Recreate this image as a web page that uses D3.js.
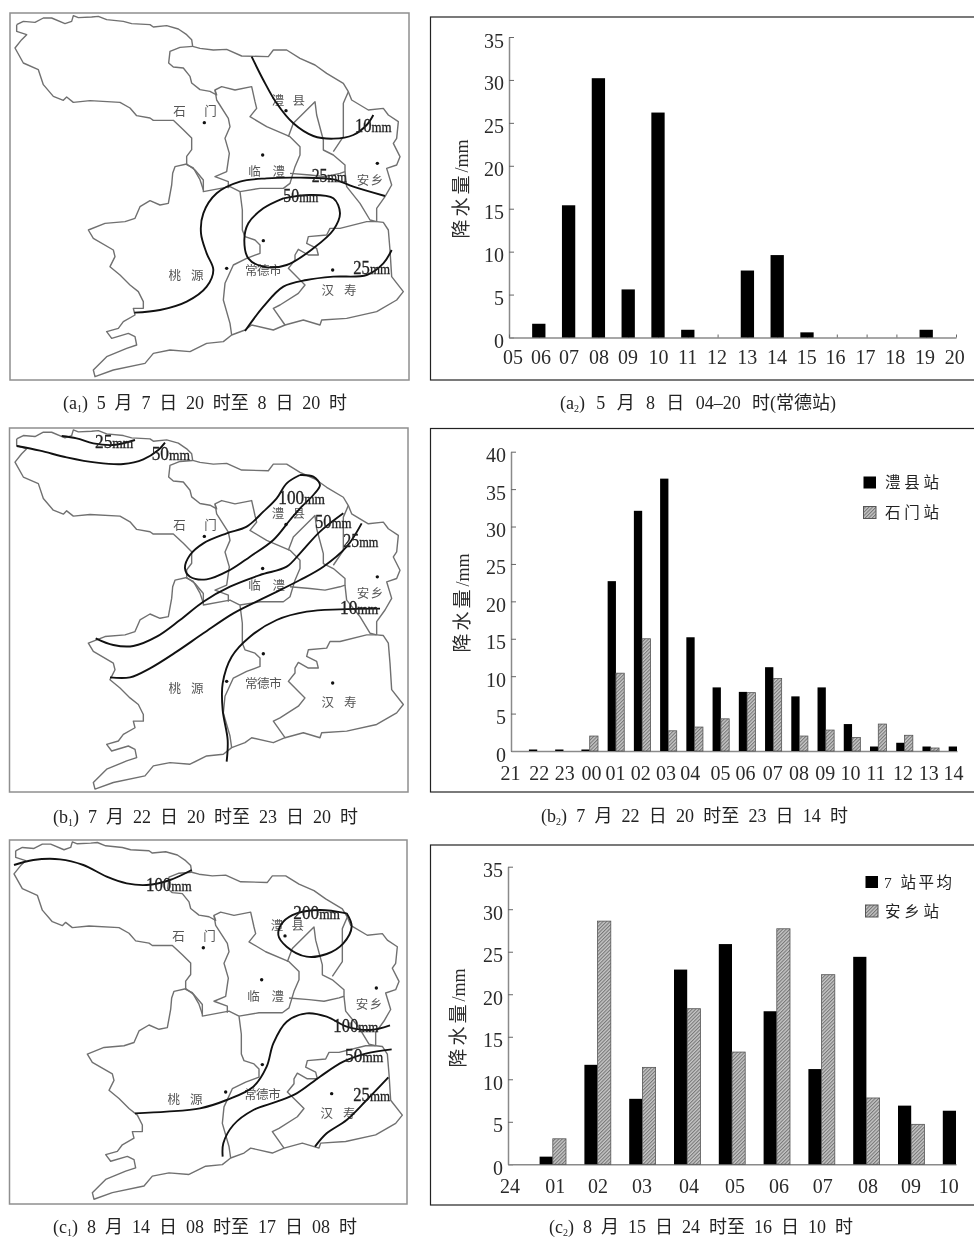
<!DOCTYPE html>
<html>
<head>
<meta charset="utf-8">
<script src="https://cdn.jsdelivr.net/npm/d3@7"></script>
<style>
  html, body { margin: 0; padding: 0; background: #fff; overflow: hidden; }
  svg { display: block; will-change: transform; }
  text { font-family: "Liberation Serif", "Noto Sans CJK SC", serif; }
</style>
</head>
<body>
<div class="chart"></div>
<script>
// ---------- bar chart data (mm per hour) ----------
var hoursA = ["05","06","07","08","09","10","11","12","13","14","15","16","17","18","19","20"];
var changde = [0,1.6,15.4,30.2,5.6,26.2,0.9,0,7.8,9.6,0.6,0,0,0,0.9,0];

var hoursB = ["21","22","23","00","01","02","03","04","05","06","07","08","09","10","11","12","13","14"];
var lixian = [0,0.2,0.2,0.2,22.7,32.1,36.4,15.2,8.5,7.9,11.2,7.3,8.5,3.6,0.6,1.1,0.6,0.6];
var shimen = [0,0,0,2.0,10.4,15,2.7,3.2,4.3,7.8,9.7,2.0,2.8,1.8,3.6,2.1,0.4,0];

var hoursC = ["24","01","02","03","04","05","06","07","08","09","10"];
var avg7 = [0,0.9,11.7,7.7,22.9,25.9,18,11.2,24.4,6.9,6.3];
var anxiang = [0,3.0,28.6,11.4,18.3,13.2,27.7,22.3,7.8,4.7,0];

// ---------- base map, traced in map units (same for the three maps) ----------
var countyLines = [
  // north edge, from the top lobe round to the east side
  [[50,74],[70,64],[105,67],[130,54],[155,54],[195,71],[215,64],[220,47],[235,53],[275,51],[295,49],[320,59],[370,64],[395,71],[450,74],[460,81],[500,77],[535,87],[560,104],[575,119],[578,139],[600,145],[640,150],[680,148],[725,168],[805,170],[820,150],[860,150],[900,175],[945,195],[980,220],[1030,250],[1045,275],[1055,300],[1105,330],[1150,325],[1165,345],[1195,365],[1190,415],[1180,430],[1200,470],[1190,495],[1160,505],[1175,555],[1155,590],[1130,625],[1130,665]],
  // south edge of the top lobe
  [[50,74],[50,94],[80,104],[65,119],[45,144],[70,189],[115,209],[130,254],[160,289],[190,301],[200,291],[220,307],[270,302],[360,307],[390,324],[410,347],[450,354],[460,361],[520,361],[550,389],[575,414],[575,449],[560,469],[560,494],[580,504],[600,539],[610,569]],
  // Hanshou, north side then south side
  [[1130,665],[1150,667],[1165,690],[1170,750],[1175,830],[1210,875],[1190,900],[1130,935],[1040,955],[965,960],[960,975],[910,960],[855,975],[820,925],[840,915],[895,880],[915,855],[900,840],[865,805],[885,780],[885,765],[895,748],[925,765],[955,765],[950,745],[920,730],[925,710],[980,705],[990,685],[1020,685],[1100,665],[1130,665]],
  // south edge and Taoyuan round to its north tip
  [[855,975],[820,990],[755,975],[735,990],[695,1005],[670,1025],[620,1030],[570,1055],[510,1050],[460,1060],[435,1090],[340,1110],[285,1130],[280,1110],[320,1070],[380,1045],[410,1035],[405,1010],[385,1000],[335,1015],[320,995],[355,985],[370,965],[405,945],[400,925],[430,925],[430,905],[415,875],[390,855],[360,825],[330,800],[345,770],[340,750],[280,715],[265,690],[315,670],[375,665],[405,655],[420,620],[450,602],[480,615],[505,610],[515,555],[518,520],[525,500],[560,492],[585,510],[610,540],[610,575],[690,560],[720,575]],
  // Li county west side and the Linli ring
  [[578,139],[540,142],[510,154],[506,189],[520,201],[550,204],[570,229],[575,249],[600,269],[630,274],[650,285],[645,270],[665,260],[705,270],[755,260],[765,305],[770,325],[750,350],[800,380],[870,410],[900,440],[900,465],[885,500],[870,550],[850,565],[780,565],[720,575]],
  // Shimen / Linli
  [[645,270],[650,300],[685,355],[690,380],[675,415],[688,460],[680,515],[645,530],[685,545],[685,565]],
  // wedge north of Changde and its southern side
  [[865,410],[880,370],[945,305],[950,345],[970,420],[970,450],[1000,465],[1035,495],[1035,515],[1020,520],[975,530],[930,525],[870,520]],
  // Anxiang west side
  [[1045,275],[1030,310],[1030,410],[1000,455]],
  [[1035,515],[1040,560],[1080,610],[1110,660],[1130,665]],
  // Taoyuan / Changde
  [[720,575],[727,630],[727,690],[735,710],[765,720],[780,735],[780,760],[740,775],[700,795],[675,850],[670,900],[690,970],[695,1005]]
];
var placeNames = ["石门","澧县","临澧","安乡","桃源","常德市","汉寿"];
var placeCentres = [[585,335],[865,300],[800,515],[1110,540],[558,827],[790,812],[1017,870]];
var placeWidths = [130,100,110,80,105,110,105];
var stationAt = [[613,368],[858,332],[788,465],[1132,490],[790,722],[680,805],[998,810]];

// ---------- isohyets per map ----------
var isoA = [
  [[755,170],[790,240],[830,310],[880,370],[940,408],[1000,416],[1060,405],[1100,375],[1120,345]],
  [[403,938],[480,930],[560,905],[620,860],[640,810],[620,760],[603,700],[610,640],[650,580],[720,545],[800,535],[900,533],[1000,538],[1060,560],[1155,588]],
  [[850,595],[930,585],[1000,595],[1020,640],[1000,690],[940,745],[860,795],[790,800],[745,775],[733,720],[745,670],[790,625],[850,595]],
  [[735,993],[790,920],[850,860],[920,840],[1000,830],[1100,825],[1150,790],[1175,750]]
];
var isoLabelsA = [["10",1065,1175,380],["25",935,1040,530],["50",850,955,590],["25",1060,1170,805]];

var isoB = [
  [[185,48],[230,55],[280,70],[340,75],[405,60]],
  [[50,78],[120,92],[200,112],[290,128],[370,132],[430,118],[475,90],[495,68]],
  [[900,165],[940,170],[960,195],[940,225],[905,260],[870,300],[820,360],[750,410],[690,450],[620,478],[570,470],[555,445],[570,405],[610,370],[680,340],[740,320],[790,275],[830,235],[860,190],[900,165]],
  [[287,655],[340,675],[400,678],[470,650],[540,600],[610,545],[690,500],[780,465],[860,440],[900,400],[960,335],[1030,280]],
  [[330,772],[390,772],[450,745],[530,695],[610,640],[700,580],[800,530],[900,480],[970,440],[1040,380],[1085,310]],
  [[680,1025],[683,960],[668,870],[668,790],[695,710],[750,650],[830,600],[920,575],[1020,568],[1140,566]]
];
var isoLabelsB = [["25",285,400,68],["50",455,570,102],["100",835,975,235],["50",945,1055,308],["25",1030,1135,365],["10",1020,1135,566]];

var isoC = [
  [[42,105],[100,90],[180,88],[250,105],[320,140],[380,160],[440,165],[510,150],[575,120]],
  [[1040,250],[1055,290],[1030,340],[980,372],[920,380],[860,350],[835,315],[850,275],[890,250],[960,240],[1040,250]],
  [[405,850],[500,845],[600,835],[680,810],[760,770],[800,710],[820,640],[860,575],[920,550],[980,560],[1040,590],[1110,600],[1170,586]],
  [[668,980],[670,940],[700,885],[760,840],[830,815],[890,790],[960,740],[1030,695],[1100,670],[1175,658]],
  [[945,950],[980,910],[1040,870],[1100,810],[1165,742]]
];
var isoLabelsC = [["100",438,575,165],["200",880,1020,250],["100",1000,1135,588],["50",1035,1150,680],["25",1060,1170,795]];

// ---------- page layout ----------
var svg = d3.select(".chart").append("svg")
  .attr("width", 974)
  .attr("height", 1238);

svg.append("rect").attr("width", 974).attr("height", 1238).attr("fill", "#fff");

// hatch fill used by the second series
var hatch = svg.append("defs").append("pattern")
  .attr("id", "hatch")
  .attr("patternUnits", "userSpaceOnUse")
  .attr("width", 2.5)
  .attr("height", 2.5)
  .attr("patternTransform", "rotate(45)");
hatch.append("rect").attr("width", 2.5).attr("height", 2.5).attr("fill", "#c8c8c8");
hatch.append("rect").attr("width", 1.1).attr("height", 2.5).attr("fill", "#777");

// captions: digits stay tight, the gaps between words take up the width
function caption(part, sub, rest, x0, x1, yMid) {
  var t = svg.append("text")
    .attr("x", x0)
    .attr("y", yMid + 6)
    .attr("font-size", 18)
    .attr("fill", "#222");
  t.append("tspan").text("(" + part);
  t.append("tspan").attr("font-size", 10).attr("dy", 3).text(sub);
  t.append("tspan").attr("dy", -3).text(") " + rest);

  var gaps = rest.split(" ").length;
  var spare = (x1 - x0) - t.node().getComputedTextLength();
  t.style("word-spacing", (spare / gaps) + "px");
}

function drawMap(m) {
  var x = d3.scaleLinear().domain([0, 1260]).range([0, 420]);
  var y = d3.scaleLinear().domain([0, 1260]).range([m.top, m.top + 420]);
  // the scanned base map sits a little differently in each frame
  var baseX = function (v) { return x(v + m.shiftX); };
  var baseY = function (v) { return y(v * m.scaleY + m.shiftY); };

  var g = svg.append("g");

  g.append("rect")
    .attr("x", m.frame[0])
    .attr("y", m.frame[1])
    .attr("width", m.frame[2] - m.frame[0])
    .attr("height", m.frame[3] - m.frame[1])
    .attr("fill", "none")
    .attr("stroke", "#8f8f8f")
    .attr("stroke-width", 1.5);

  var baseLine = d3.line().x(d => baseX(d[0])).y(d => baseY(d[1]));
  countyLines.forEach(function (b) {
    g.append("path")
      .attr("d", baseLine(b))
      .attr("fill", "none")
      .attr("stroke", "#707070")
      .attr("stroke-width", 1.4)
      .attr("stroke-linejoin", "round");
  });

  // county names and station dots
  g.selectAll(".place").data(placeNames).enter().append("text")
    .attr("x", (d, i) => baseX(placeCentres[i][0] - placeWidths[i] / 2))
    .attr("y", (d, i) => baseY(placeCentres[i][1]) + 4.5)
    .attr("textLength", (d, i) => x(placeWidths[i]))
    .attr("lengthAdjust", "spacing")
    .attr("font-size", 12.5)
    .attr("fill", "#555")
    .text(d => d);

  g.selectAll(".station").data(stationAt).enter().append("circle")
    .attr("cx", d => baseX(d[0]))
    .attr("cy", d => baseY(d[1]))
    .attr("r", 1.7)
    .attr("fill", "#111");

  var isoLine = d3.line().x(d => x(d[0])).y(d => y(d[1])).curve(d3.curveCatmullRom);
  m.iso.forEach(function (c) {
    g.append("path")
      .attr("d", isoLine(c))
      .attr("fill", "none")
      .attr("stroke", "#111")
      .attr("stroke-width", 1.9);
  });

  m.isoLabels.forEach(function (l) {
    var t = g.append("text")
      .attr("x", x(l[1]))
      .attr("y", y(l[3]) + 5.5)
      .attr("font-size", 18)
      .attr("fill", "#222")
      .attr("stroke", "#222")
      .attr("stroke-width", 0.3)
      .attr("textLength", x(l[2]) - x(l[1]))
      .attr("lengthAdjust", "spacingAndGlyphs");
    t.append("tspan").text(l[0]);
    t.append("tspan").attr("font-size", 14).text("mm");
  });
}

function drawBars(c) {
  // frame runs off the right edge of the picture
  svg.append("rect")
    .attr("x", 430.5)
    .attr("y", c.frameTop)
    .attr("width", 600)
    .attr("height", c.frameBottom - c.frameTop)
    .attr("fill", "none")
    .attr("stroke", "#222")
    .attr("stroke-width", 1.2);

  var x = d3.scalePoint().domain(c.hours).range([c.left, c.right]);
  var y = d3.scaleLinear().domain([0, c.yMax]).range([c.y0, c.yTop]);

  var leftAxis = d3.axisLeft(y).tickValues(d3.range(0, c.yMax + 1, 5)).tickSizeInner(-5).tickSizeOuter(0).tickPadding(5);
  var bottomAxis = d3.axisBottom(x).tickSizeInner(c.xTick).tickSizeOuter(0).tickPadding(9);

  var gy = svg.append("g").attr("transform", `translate(${c.left}, 0)`).call(leftAxis);
  var gx = svg.append("g").attr("transform", `translate(0, ${c.y0})`).call(bottomAxis);

  [gy, gx].forEach(function (a) {
    a.select(".domain").attr("stroke", "#8a8a8a").attr("stroke-width", 1.5);
    a.selectAll(".tick line").attr("stroke", "#666");
    a.selectAll("text")
      .attr("font-size", 20)
      .attr("fill", "#2a2a2a")
      .style("font-family", "'Liberation Serif', serif");
  });
  gy.selectAll("text").attr("dy", "0.5em");
  gx.selectAll("text")
    .attr("dx", (d, i) => c.nudge[i])
    .attr("y", c.xLabelY);

  // bars: one series is centred on the tick, two series sit either side of it
  var pairs = c.series.length === 2;
  c.series.forEach(function (s, k) {
    svg.selectAll(".bar" + c.id + k)
      .data(s.values.map((v, i) => ({ h: c.hours[i], v: v })).filter(d => d.v > 0))
      .enter().append("rect")
      .attr("x", d => pairs ? (k === 0 ? x(d.h) - c.barW : x(d.h)) : x(d.h) - c.barW / 2)
      .attr("y", d => y(d.v))
      .attr("width", c.barW)
      .attr("height", d => y(0) - y(d.v))
      .attr("fill", s.hatched ? "url(#hatch)" : "#000")
      .attr("stroke", s.hatched ? "#555" : "none")
      .attr("stroke-width", 0.8);
  });

  // axis title
  var title = svg.append("text")
    .attr("transform", `translate(${c.titleX}, ${c.titleY}) rotate(-90)`)
    .attr("text-anchor", "middle")
    .attr("font-size", 19)
    .attr("fill", "#2a2a2a");
  title.append("tspan").attr("letter-spacing", 3).text("降水量");
  title.append("tspan").attr("font-size", 18).text("/mm");

  // legend
  if (c.legend) {
    c.series.forEach(function (s, k) {
      var l = c.legend[k];
      svg.append("rect")
        .attr("x", l.x)
        .attr("y", l.y - 6)
        .attr("width", 12.5)
        .attr("height", 12)
        .attr("fill", s.hatched ? "url(#hatch)" : "#000")
        .attr("stroke", s.hatched ? "#555" : "none");
      svg.append("text")
        .attr("x", l.tx0)
        .attr("y", l.y + 5.5)
        .attr("font-size", 15.5)
        .attr("fill", "#222")
        .attr("textLength", l.tx1 - l.tx0)
        .attr("lengthAdjust", "spacing")
        .text(s.name);
    });
  }
}

drawMap({ top: 0, frame: [10, 13, 409, 380], shiftX: 0, scaleY: 1, shiftY: 0, iso: isoA, isoLabels: isoLabelsA });
drawMap({ top: 420, frame: [9.5, 428, 408, 792], shiftX: 0, scaleY: 0.995, shiftY: -17, iso: isoB, isoLabels: isoLabelsB });
drawMap({ top: 830, frame: [9.5, 840, 407, 1204], shiftX: -3, scaleY: 0.99, shiftY: -11, iso: isoC, isoLabels: isoLabelsC });

drawBars({
  id: "a", frameTop: 17, frameBottom: 380,
  hours: hoursA, left: 509, right: 956, y0: 337.5, yTop: 37, yMax: 35, xTick: -3, xLabelY: 12, barW: 13.3,
  nudge: [3.5,1.7,0,0,-0.7,0,-0.7,-1,-0.7,-0.7,-0.7,-1.7,-1.7,-1.7,-1.7,-1.7],
  titleX: 468, titleY: 189,
  series: [{ name: "常德站", values: changde, hatched: false }]
});
drawBars({
  id: "b", frameTop: 428.5, frameBottom: 792,
  hours: hoursB, left: 511, right: 957, y0: 751, yTop: 451.7, yMax: 40, xTick: 0, xLabelY: 14.4, barW: 8.3,
  nudge: [-1,1.4,0.7,1.4,-1,-2,-3,-5,-1,-2,-1,-1,-1,-2,-3,-2,-2.5,-4],
  titleX: 469, titleY: 603,
  series: [{ name: "澧县站", values: lixian, hatched: false }, { name: "石门站", values: shimen, hatched: true }],
  legend: [{ x: 863.5, y: 482.5, tx0: 885, tx1: 939 }, { x: 863.5, y: 512.5, tx0: 885, tx1: 939 }]
});
drawBars({
  id: "c", frameTop: 845, frameBottom: 1205,
  hours: hoursC, left: 508, right: 956, y0: 1164.3, yTop: 866.7, yMax: 35, xTick: 0, xLabelY: 15, barW: 13.2,
  nudge: [1.4,2,0,-1,1.4,2.5,1.7,0.7,1,-0.7,-7.7],
  titleX: 465, titleY: 1018,
  series: [{ name: "7 站平均", values: avg7, hatched: false }, { name: "安乡站", values: anxiang, hatched: true }],
  legend: [{ x: 865.5, y: 882, tx0: 884, tx1: 952 }, { x: 865.5, y: 911, tx0: 885, tx1: 939 }]
});

caption("a", "1", "5 月 7 日 20 时至 8 日 20 时", 63, 347, 403);
caption("a", "2", "5 月 8 日 04–20 时(常德站)", 560, 836, 403);
caption("b", "1", "7 月 22 日 20 时至 23 日 20 时", 53, 358, 817);
caption("b", "2", "7 月 22 日 20 时至 23 日 14 时", 541, 848, 816);
caption("c", "1", "8 月 14 日 08 时至 17 日 08 时", 53, 357, 1227);
caption("c", "2", "8 月 15 日 24 时至 16 日 10 时", 549, 853, 1227);
</script>
</body>
</html>
